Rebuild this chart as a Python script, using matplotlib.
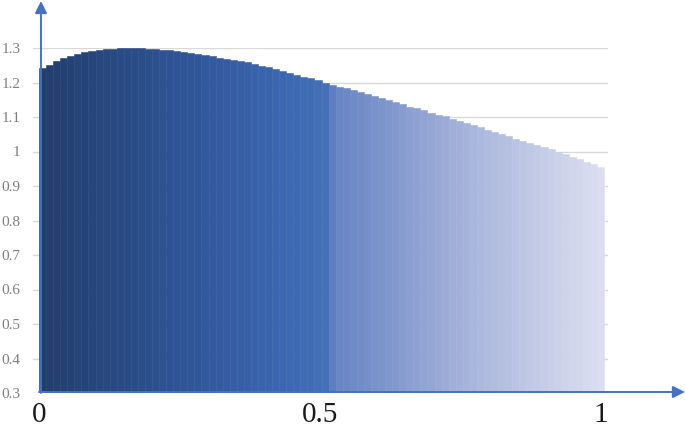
import numpy as np
import matplotlib
matplotlib.use("Agg")
import matplotlib.pyplot as plt
from matplotlib.colors import LinearSegmentedColormap

plt.rcParams['font.family'] = ['Liberation Serif', 'DejaVu Serif']

# bar heights (80 bars from 0 to 1)
heights = [
    1.242, 1.252, 1.261, 1.270, 1.277, 1.283, 1.288, 1.291, 1.294, 1.297,
    1.298, 1.299, 1.300, 1.299, 1.299, 1.298, 1.297, 1.295, 1.293, 1.291,
    1.288, 1.286, 1.283, 1.279, 1.276, 1.272, 1.269, 1.265, 1.262, 1.258,
    1.254, 1.249, 1.245, 1.238, 1.233, 1.228, 1.222, 1.217, 1.212, 1.206,
    1.200, 1.194, 1.188, 1.183, 1.177, 1.172, 1.166, 1.160, 1.154, 1.148,
    1.143, 1.137, 1.130, 1.125, 1.119, 1.113, 1.107, 1.102, 1.095, 1.089,
    1.083, 1.077, 1.070, 1.063, 1.057, 1.051, 1.044, 1.037, 1.031, 1.026,
    1.019, 1.013, 1.006, 0.999, 0.992, 0.985, 0.978, 0.970, 0.963, 0.954,
]
ytick_vals = [0.3, 0.4, 0.5, 0.6, 0.7, 0.8, 0.9, 1.0, 1.1, 1.2, 1.3]
xtick_vals = [0, 0.5, 1]
xtick_labels = ['0', '0.5', '1']

n = len(heights)
w = 1.0 / n
lefts = np.arange(n) * w

cmap = LinearSegmentedColormap.from_list('grad', [
    (0.0, '#213e6c'),
    (0.25, '#2f5496'),
    (0.45, '#3d69b3'),
    (0.51, '#4571b7'),
    (0.52, '#6482c3'),
    (0.75, '#a4b2da'),
    (1.0, '#dcdff0'),
])

fig = plt.figure(figsize=(6.85, 4.43), dpi=100)
W, H = 685, 443
ax = fig.add_axes([33 / W, (H - 393) / H, 575 / W, 345 / H])

cols = [cmap((l + w / 2)) for l in lefts]
ax.bar(lefts, [h - 0.3 for h in heights], width=w, bottom=0.3, align='edge',
       color=cols, edgecolor=cols, linewidth=0.4, zorder=2)

ax.set_xlim(-6 / 565, 1 + 4 / 565)
ax.set_ylim(0.3, 1.3)
ax.set_yticks(ytick_vals)
ax.set_yticklabels(['%g' % v for v in ytick_vals], color='#7f7f7f', fontsize=11)
ax.tick_params(axis='y', length=0, pad=9)
ax.set_xticks([])
for v in ytick_vals:
    ax.axhline(v, color='#d9d9d9', lw=1.0, zorder=1)
for s in ax.spines.values():
    s.set_visible(False)

# x labels under axis
for v, t in zip(xtick_vals, xtick_labels):
    fig.text((39 + v * 562) / W, (H - 415) / H, t, ha='center', va='center',
             fontsize=21, color='#1a1a1a')

# arrow axes
ax.annotate('', xy=(41, H - 1), xytext=(41, H - 393), xycoords='figure pixels',
            textcoords='figure pixels',
            arrowprops=dict(arrowstyle='-|>', color='#4472c4', lw=1.4,
                            mutation_scale=18, shrinkA=0, shrinkB=0))
ax.annotate('', xy=(685, H - 392), xytext=(39, H - 392), xycoords='figure pixels',
            textcoords='figure pixels',
            arrowprops=dict(arrowstyle='-|>', color='#4472c4', lw=1.4,
                            mutation_scale=18, shrinkA=0, shrinkB=0))

fig.savefig('out.png', dpi=100)
